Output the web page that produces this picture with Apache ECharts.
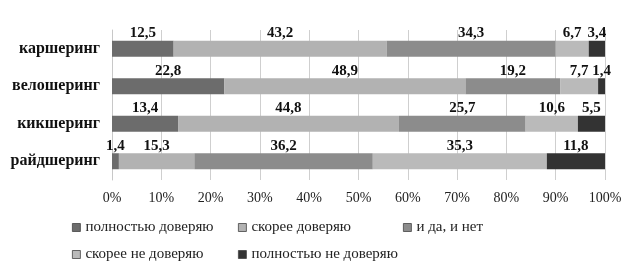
<!DOCTYPE html>
<html>
<head>
<meta charset="utf-8">
<script src="https://cdn.jsdelivr.net/npm/echarts@6/dist/echarts.min.js"></script>
<style>
html,body{margin:0;padding:0;background:#fff;}
#chart{width:635px;height:269px;}
</style>
</head>
<body>
<div id="chart"></div>
<script>
var categories = ['каршеринг', 'велошеринг', 'кикшеринг', 'райдшеринг'];
var seriesNames = ['полностью доверяю', 'скорее доверяю', 'и да, и нет', 'скорее не доверяю', 'полностью не доверяю'];
var fullTrust = [12.5, 22.8, 13.4, 1.4];
var ratherTrust = [43.2, 48.9, 44.8, 15.3];
var yesNo = [34.3, 19.2, 25.7, 36.2];
var ratherNot = [6.7, 7.7, 10.6, 35.3];
var fullNot = [3.4, 1.4, 5.5, 11.8];
var xTicks = [0, 10, 20, 30, 40, 50, 60, 70, 80, 90, 100];

var colors = ['#6c6c6c', '#b2b2b2', '#8c8c8c', '#bababa', '#333333'];
var values = [fullTrust, ratherTrust, yesNo, ratherNot, fullNot];
var font = '"Liberation Serif", "Times New Roman", serif';

var myChart = echarts.init(document.getElementById('chart'));

var series = [];
for (var i = 0; i < seriesNames.length; i++) {
	series.push({
		name: seriesNames[i],
		type: 'bar',
		stack: 'all',
		barWidth: 16,
		data: values[i],
		itemStyle: {
			color: colors[i]
		},
		label: {
			show: true,
			position: 'top',
			distance: 0,
			color: '#111',
			fontFamily: font,
			fontWeight: 'bold',
			fontSize: 15,
			formatter: function (p) {
				return String(p.value).replace('.', ',');
			}
		}
	});
}

// legend positions like the excel layout (2 rows)
var legendPos = [[67, 215], [233, 215], [398, 215], [67, 242], [233, 242]];
var legends = [];
for (var j = 0; j < seriesNames.length; j++) {
	legends.push({
		data: [seriesNames[j]],
		left: legendPos[j][0],
		top: legendPos[j][1],
		icon: 'rect',
		itemWidth: 8,
		itemHeight: 8,
		itemGap: 3,
		selectedMode: false,
		textStyle: {
			fontFamily: font,
			fontSize: 15,
			color: '#222'
		},
		itemStyle: {
			borderColor: '#444',
			borderWidth: 0.8
		}
	});
}

var option = {
	animation: false,
	color: colors,
	legend: legends,
	grid: {
		left: 112,
		right: 30,
		top: 30,
		bottom: 89
	},
	xAxis: {
		type: 'value',
		min: 0,
		max: 100,
		interval: 10,
		axisLine: { show: false },
		axisTick: { show: false },
		splitLine: {
			show: true,
			lineStyle: { color: '#cfcfcf' }
		},
		axisLabel: {
			margin: 11,
			fontFamily: font,
			fontSize: 14,
			color: '#222',
			formatter: function (v) {
				return xTicks.indexOf(v) >= 0 ? v + '%' : '';
			}
		}
	},
	yAxis: {
		type: 'category',
		inverse: true,
		data: categories,
		axisLine: {
			show: true,
			lineStyle: { color: '#c8c8c8' }
		},
		axisTick: { show: false },
		axisLabel: {
			margin: 12,
			fontFamily: font,
			fontWeight: 'bold',
			fontSize: 16,
			color: '#111'
		}
	},
	series: series
};

myChart.setOption(option);
</script>
</body>
</html>
